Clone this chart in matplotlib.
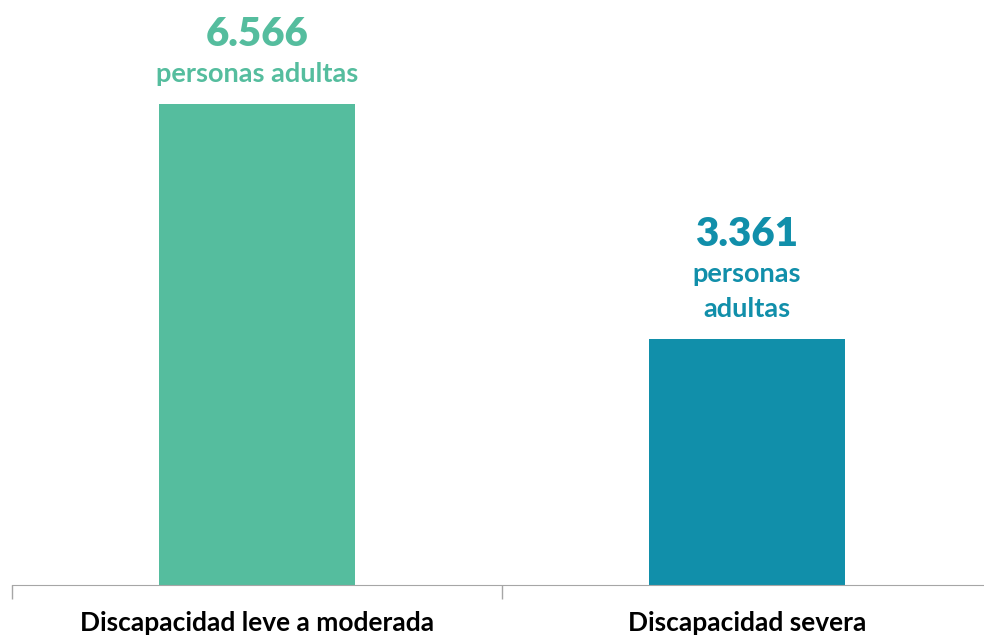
import matplotlib
matplotlib.use('Agg')
import matplotlib.pyplot as plt

categories = ['Discapacidad leve a moderada', 'Discapacidad severa']
values = [6566, 3361]
value_labels = ['6.566', '3.361']
unit_labels = [['personas adultas'], ['personas', 'adultas']]
colors = ['#55BD9E', '#118FAA']

plt.rcParams['font.family'] = ['Lato', 'DejaVu Sans']

fig = plt.figure(figsize=(9.84, 6.37), dpi=100)
ax = fig.add_axes([12 / 984, 52 / 637, 980 / 984, 585 / 637])

x = [0, 1]
ax.bar(x, values, width=0.4, color=colors)
ax.set_xlim(-0.5, 1.5)
ax.set_ylim(0, 6566 * 585 / 481)

for xi, v, vl, units, c in zip(x, values, value_labels, unit_labels, colors):
    off = 30
    for line in reversed(units):
        ax.annotate(line, (xi, v), xytext=(0, off), textcoords='offset pixels',
                    ha='center', va='center', fontsize=19.5, fontweight='bold', color=c)
        off += 35
    ax.annotate(vl, (xi, v), xytext=(0, off + 4), textcoords='offset pixels',
                ha='center', va='center', fontsize=29, fontweight='heavy', color=c)

for s in ['top', 'right', 'left']:
    ax.spines[s].set_visible(False)
ax.spines['bottom'].set_color('#A6A6A6')
ax.set_yticks([])
ax.set_xticks([-0.5, 0.5, 1.5], minor=False)
ax.set_xticklabels([])
ax.tick_params(axis='x', length=10, color='#A6A6A6', width=1)
for xi, cat in zip(x, categories):
    ax.annotate(cat, (xi, 0), xytext=(0, -38), textcoords='offset pixels',
                ha='center', va='center', fontsize=19, fontweight='bold', color='black',
                annotation_clip=False)

fig.savefig('out.png', dpi=100)
plt.close(fig)
